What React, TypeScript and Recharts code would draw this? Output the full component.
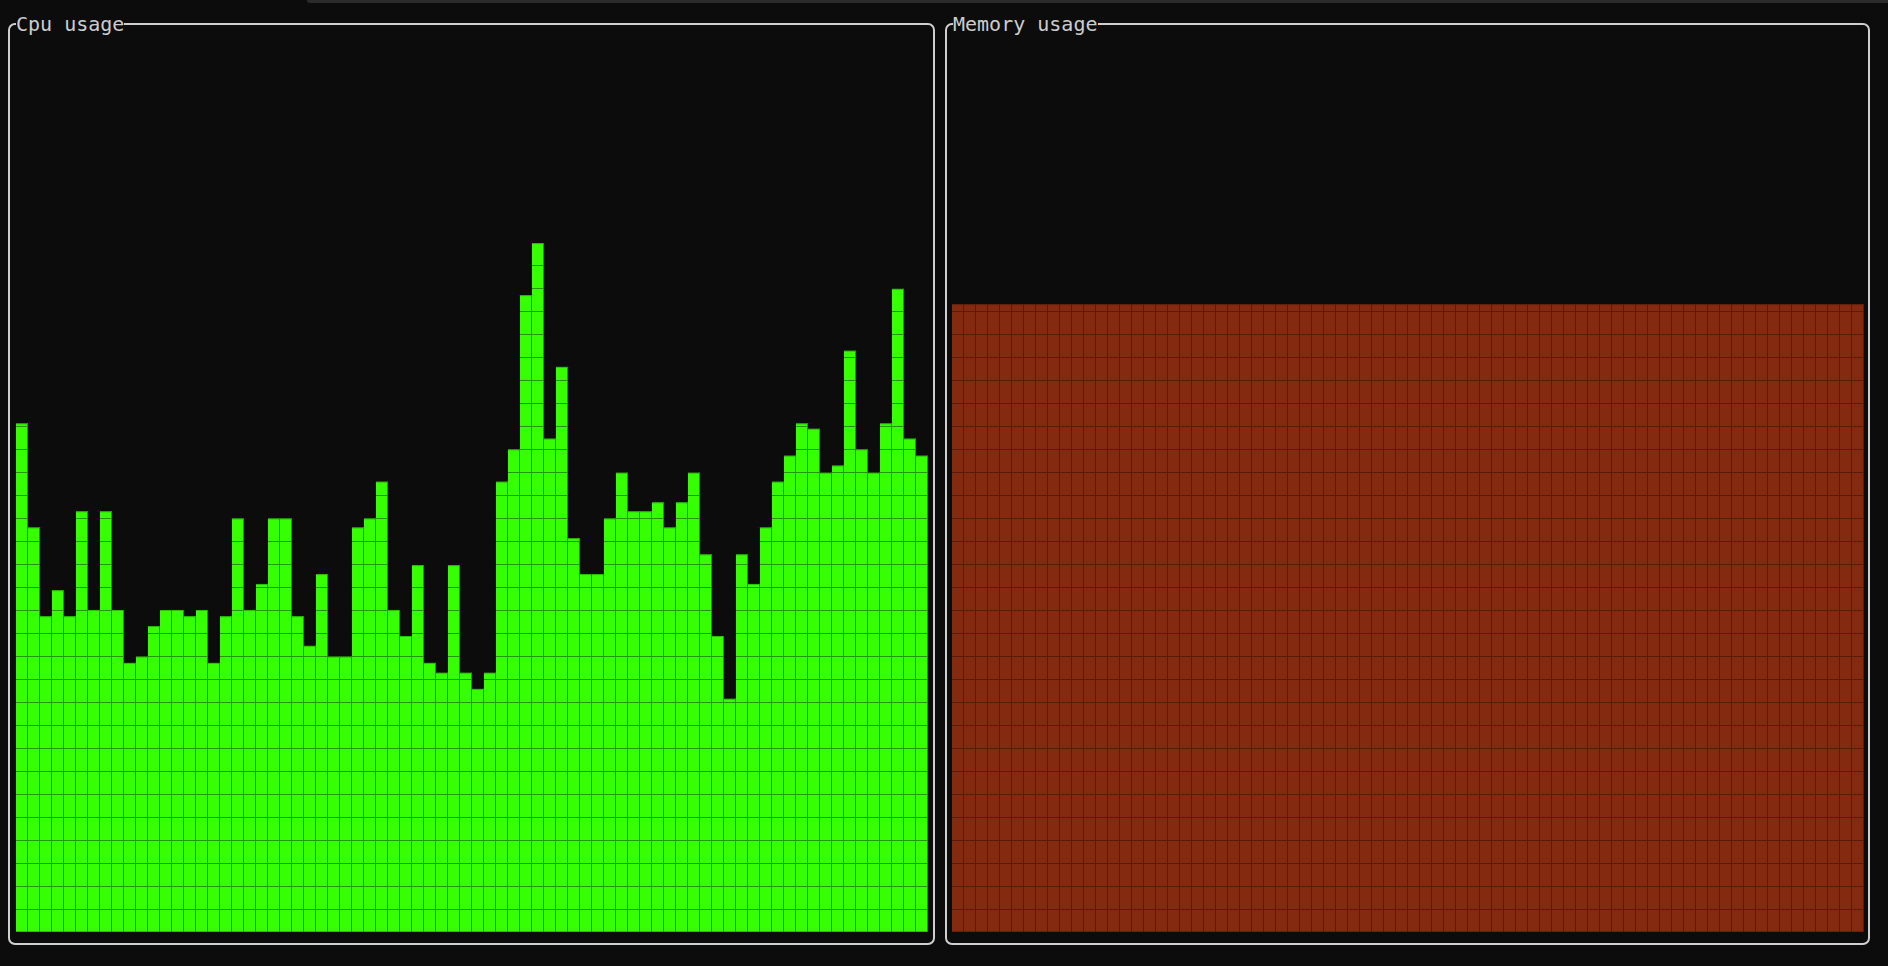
import React from "react";
import { BarChart, Bar, XAxis, YAxis } from "recharts";

// CPU usage samples (percent), one per terminal column
const cpuSamples: number[] = [
  56.7, 45.1, 35.2, 38.1, 35.2, 46.9, 35.9, 46.9, 35.9, 30.0,
  30.7, 34.1, 35.9, 35.9, 35.2, 35.9, 30.0, 35.2, 46.1, 35.9,
  38.8, 46.1, 46.1, 35.2, 31.9, 39.9, 30.7, 30.7, 45.1, 46.1,
  50.2, 35.9, 33.0, 40.9, 30.0, 28.9, 40.9, 28.9, 27.1, 28.9,
  50.2, 53.8, 71.0, 76.8, 55.0, 63.0, 43.9, 39.9, 39.9, 46.1,
  51.2, 46.9, 46.9, 47.9, 45.1, 47.9, 51.2, 42.1, 33.0, 26.0,
  42.1, 38.8, 45.1, 50.2, 53.1, 56.7, 56.1, 51.2, 52.0, 64.8,
  53.8, 51.2, 56.7, 71.7, 55.0, 53.1,
];
// Memory usage (percent)
const memorySamples: number[] = [70];

const panelTitles = ["Cpu usage", "Memory usage"];
const yDomain: [number, number] = [0, 100];

const cpuData = cpuSamples.map((v, i) => ({ t: i, v }));
const memData = memorySamples.map((v, i) => ({ t: i, v }));

const PLOT_W = 912;
const PLOT_H = 897;
const ROWS = 39;
const CELL_W = 12;
const BG = "#0c0c0c";
const FONT = '"DejaVu Sans Mono", "Liberation Mono", monospace';

function makeShape(fill: string, lineColor: string) {
  return (props: any) => {
    const { x, y, width, height } = props;
    if (!height || height <= 0) return <g />;
    const bottom = y + height;
    const cellH = PLOT_H / ROWS;
    const hl: React.ReactNode[] = [];
    for (let k = 1; bottom - k * cellH > y + 1; k++) {
      const ly = bottom - k * cellH + 0.5;
      hl.push(<line key={"h" + k} x1={x} x2={x + width} y1={ly} y2={ly} stroke={lineColor} strokeWidth={1} />);
    }
    const vl: React.ReactNode[] = [];
    let i = 0;
    for (let cx = x + CELL_W; cx <= x + width + 0.01; cx += CELL_W) {
      vl.push(<line key={"v" + i++} x1={cx - 0.5} x2={cx - 0.5} y1={y} y2={bottom} stroke={lineColor} strokeWidth={1} />);
    }
    return (
      <g>
        <rect x={x} y={y} width={width} height={height} fill={fill} />
        {hl}
        {vl}
        <line x1={x} x2={x + width} y1={y + 0.5} y2={y + 0.5} stroke={lineColor} strokeOpacity={0.6} strokeWidth={1} />
        <line x1={x} x2={x + width} y1={bottom - 0.5} y2={bottom - 0.5} stroke={lineColor} strokeOpacity={0.6} strokeWidth={1} />
      </g>
    );
  };
}

function Panel({ left, width, title }: { left: number; width: number; title: string }) {
  return (
    <>
      <div
        style={{
          position: "absolute",
          left,
          top: 23,
          width: width - 4,
          height: 918,
          border: "2px solid #cfcfcf",
          borderRadius: 7,
        }}
      />
      <span
        style={{
          position: "absolute",
          left: left + 8,
          top: 12.5,
          height: 23,
          lineHeight: "23px",
          fontSize: 20,
          fontFamily: FONT,
          color: "#cccccc",
          background: BG,
          whiteSpace: "pre",
        }}
      >
        {title}
      </span>
    </>
  );
}

export default function App() {
  return (
    <div
      style={{
        position: "fixed",
        left: 0,
        top: 0,
        width: 1888,
        height: 966,
        background: BG,
        overflow: "hidden",
      }}
    >
      <div style={{ position: "absolute", left: 307, top: 0, width: 1581, height: 3, background: "#2b2b2b", borderBottomLeftRadius: 3 }} />
      <Panel left={8} width={927} title={panelTitles[0]} />
      <Panel left={945} width={925} title={panelTitles[1]} />
      <div style={{ position: "absolute", left: 16, top: 35.3 }}>
        <BarChart width={PLOT_W} height={PLOT_H} data={cpuData} margin={{ top: 0, right: 0, bottom: 0, left: 0 }} barCategoryGap={0} barGap={0}>
          <XAxis dataKey="t" hide />
          <YAxis domain={yDomain} hide width={0} />
          <Bar dataKey="v" isAnimationActive={false} fill="#35ff02" shape={makeShape("#35ff02", "#1f9a00")} />
        </BarChart>
      </div>
      <div style={{ position: "absolute", left: 952, top: 35.3 }}>
        <BarChart width={PLOT_W} height={PLOT_H} data={memData} margin={{ top: 0, right: 0, bottom: 0, left: 0 }} barCategoryGap={0} barGap={0}>
          <XAxis dataKey="t" hide />
          <YAxis domain={yDomain} hide width={0} />
          <Bar dataKey="v" isAnimationActive={false} fill="#832a11" shape={makeShape("#832a11", "#5a1b0a")} />
        </BarChart>
      </div>
    </div>
  );
}
